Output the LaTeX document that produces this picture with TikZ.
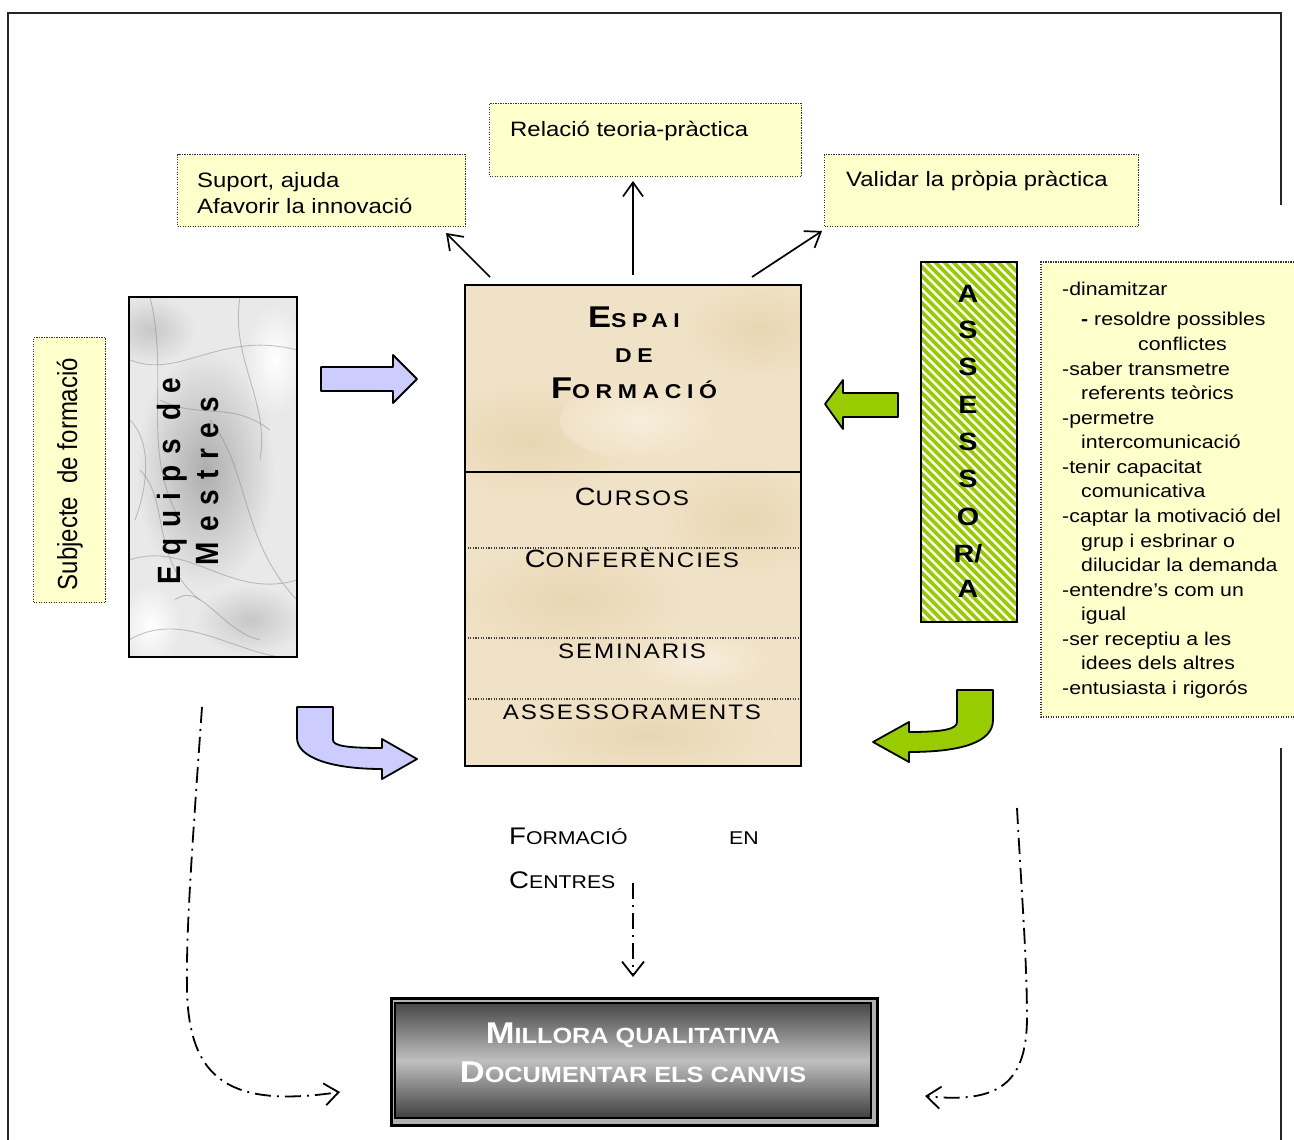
\documentclass[tikz,border=0pt]{standalone}
\usepackage{fontspec}
\usepackage{graphicx}
\usetikzlibrary{arrows.meta}
\setmainfont{Liberation Sans}[FakeStretch=1.15]
\newfontfamily\plainsans{Liberation Sans}
\newfontfamily\titlesans{Liberation Sans}[FakeStretch=1.15,LetterSpace=28]
\newfontfamily\itemsans{Liberation Sans}[FakeStretch=1.15,LetterSpace=9]
\newfontfamily\equipsans{Liberation Sans}[LetterSpace=37]
\newcommand\setfs[1]{\fontsize{#1}{#1}\selectfont}
\newcommand\vstretch[1]{\scalebox{1}[1.15]{#1}}
\definecolor{notefill}{HTML}{FFFFCC}
\definecolor{lilac}{HTML}{CCCCFF}
\definecolor{lime}{HTML}{99CC00}
\definecolor{parch}{HTML}{F0E2C6}
\definecolor{parchdark}{HTML}{E8D6B2}
\definecolor{parchlight}{HTML}{F6EDDB}
\definecolor{marble}{HTML}{E9E9E9}
\begin{document}
\begin{tikzpicture}[x=1pt,y=-1pt,
  note/.style={fill=notefill, draw=black!80, line width=1.3pt, dash pattern=on 1.3pt off 1.2pt, inner sep=0, anchor=north west},
  txt/.style={inner sep=0, font=\setfs{20.8}},
  listtxt/.style={inner sep=0, anchor=base west, font=\setfs{18.5}},
  frameline/.style={line width=2pt, black!85},
  ptr/.style={line width=1.7pt, -{Straight Barb[length=14pt,width=20pt]}},
  dashdot/.style={line width=1.8pt, dash pattern=on 16pt off 6pt on 2pt off 6pt, -{Straight Barb[length=14pt,width=22pt]}},
  blockarrow/.style={line width=1.8pt, line join=round, draw=black},
  sep/.style={line width=1.2pt, black!75, dash pattern=on 1.2pt off 1.4pt},
  vein/.style={black!50, opacity=0.45, line width=0.9pt},
  letterA/.style={inner sep=0, anchor=base, font=\bfseries\setfs{25}}]
\useasboundingbox (0,0) rectangle (1294,1140);
\fill[white] (0,0) rectangle (1294,1140);

% page frame
\draw[frameline] (8,1140) -- (8,13) -- (1281,13) -- (1281,205);
\draw[frameline] (1281,748) -- (1281,1140);

% goals above the training space
\node[note, minimum width=288, minimum height=72] (suport) at (177,154) {};
\node[txt, anchor=base west] (suportA) at (197,187) {Suport, ajuda};
\node[txt, anchor=base west] (suportB) at (197,213) {Afavorir la innovació};
\node[note, minimum width=312, minimum height=73] (relacio) at (489,103) {};
\node[txt, anchor=base west] (relacioA) at (510,136) {Relació teoria-pràctica};
\node[note, minimum width=314, minimum height=72] (validar) at (824,154) {};
\node[txt, anchor=base west] (validarA) at (846,186) {Validar la pròpia pràctica};

% subject label
\node[note, minimum width=72, minimum height=265] (subjbox) at (33,337) {};
\node[anchor=base, rotate=90, inner sep=0] (subj) at (77,474) {\vstretch{\plainsans\setfs{24}Subjecte\ \ de formació}};

% teachers' teams (marble block)
\node[anchor=north west, minimum width=168, minimum height=360, inner sep=0, fill=marble] (equips) at (129,297) {};
\begin{scope}
\clip (129,297) rectangle (297,657);
\shade[inner color=black!32, outer color=marble] (205,470) ellipse (70 and 120);
\shade[inner color=black!22, outer color=marble] (150,330) ellipse (45 and 35);
\shade[inner color=black!22, outer color=marble] (250,620) ellipse (55 and 35);
\shade[inner color=white, outer color=marble] (275,360) ellipse (30 and 55);
\shade[inner color=white, outer color=marble] (150,625) ellipse (30 and 40);
\draw[vein] (130,360) .. controls (180,380) and (220,330) .. (297,350);
\draw[vein] (150,297) .. controls (170,380) and (140,450) .. (180,520);
\draw[vein] (129,560) .. controls (190,540) and (230,600) .. (297,580);
\draw[vein] (210,420) .. controls (250,470) and (240,540) .. (297,600);
\draw[vein] (129,640) .. controls (180,610) and (230,650) .. (280,657);
\draw[vein] (240,297) .. controls (230,360) and (270,400) .. (260,460);
\draw[vein] (140,470) .. controls (170,500) and (150,560) .. (200,600);
\draw[vein] (160,400) .. controls (200,420) and (230,400) .. (270,430);
\draw[vein] (175,600) .. controls (200,580) and (220,630) .. (260,640);
\draw[vein] (130,420) .. controls (150,440) and (150,480) .. (135,520);
\end{scope}
\draw[line width=2pt] (equips.north west) rectangle (equips.south east);
\node[anchor=base, rotate=90, inner sep=0] (eq1) at (180,481) {\vstretch{\equipsans\bfseries\setfs{28}Equips de}};
\node[anchor=base, rotate=90, inner sep=0] (eq2) at (218,481) {\vstretch{\equipsans\bfseries\setfs{28}Mestres}};

% training space (parchment block)
\node[anchor=north west, minimum width=336, minimum height=481, inner sep=0, fill=parch] (espai) at (465,285) {};
\begin{scope}
\clip (465,285) rectangle (801,766);
\shade[inner color=parchdark, outer color=parch] (530,440) ellipse (110 and 60);
\shade[inner color=parchdark, outer color=parch] (760,330) ellipse (80 and 50);
\shade[inner color=parchdark, outer color=parch] (570,600) ellipse (120 and 55);
\shade[inner color=parchdark, outer color=parch] (745,520) ellipse (90 and 60);
\shade[inner color=parchdark, outer color=parch] (650,735) ellipse (130 and 40);
\shade[inner color=parchlight, outer color=parch] (640,420) ellipse (80 and 40);
\shade[inner color=parchlight, outer color=parch] (700,660) ellipse (70 and 30);
\end{scope}
\draw[line width=1.6pt] (465,472) -- (801,472);
\draw[sep] (465,548) -- (801,548);
\draw[sep] (465,638) -- (801,638);
\draw[sep] (465,699) -- (801,699);
\draw[line width=2pt] (espai.north west) rectangle (espai.south east);
\node[anchor=base, inner sep=0] (ttl1) at (634,327) {\titlesans\bfseries{\setfs{30}E}{\setfs{20}SPAI}};
\node[anchor=base, inner sep=0] (ttl2) at (634,362) {\titlesans\bfseries\setfs{20}DE};
\node[anchor=base, inner sep=0] (ttl3) at (634,398) {\titlesans\bfseries{\setfs{30}F}{\setfs{20}ORMACIÓ}};
\node[anchor=base, inner sep=0] (cursos) at (632,505) {\itemsans{\setfs{25}C}{\setfs{21}URSOS}};
\node[anchor=base, inner sep=0] (confer) at (632,567) {\itemsans{\setfs{25}C}{\setfs{21}ONFERÈNCIES}};
\node[anchor=base, inner sep=0] (semin) at (632,658) {\itemsans\setfs{21}SEMINARIS};
\node[anchor=base, inner sep=0] (assess) at (632,719) {\itemsans\setfs{21}ASSESSORAMENTS};

% adviser (striped block)
\node[anchor=north west, minimum width=96, minimum height=360, inner sep=0, fill=white] (assessor) at (921,262) {};
\begin{scope}
\clip (921,262) rectangle (1017,622);
\foreach \s in {0,9,...,500} {
  \draw[lime, line width=3.8pt] (521+\s,262) -- (921+\s,662);
}
\end{scope}
\draw[line width=2pt] (assessor.north west) rectangle (assessor.south east);
\node[letterA] (la1) at (968,302) {A};
\node[letterA] (la2) at (968,338) {S};
\node[letterA] (la3) at (968,375) {S};
\node[letterA] (la4) at (968,413) {E};
\node[letterA] (la5) at (968,450) {S};
\node[letterA] (la6) at (968,487) {S};
\node[letterA] (la7) at (968,525) {O};
\node[letterA] (la8) at (968,562) {R/};
\node[letterA] (la9) at (968,597) {A};

% adviser's qualities
\fill[notefill] (1041,262) rectangle (1294,717);
\draw[note] (1294,262) -- (1041,262) -- (1041,717) -- (1294,717);
\node[listtxt] (li1) at (1062,295) {-dinamitzar};
\node[listtxt] (li2) at (1081,325) {{\bfseries -} resoldre possibles};
\node[listtxt] (li3) at (1138,350) {conflictes};
\node[listtxt] (li4) at (1062,375) {-saber transmetre};
\node[listtxt] (li5) at (1081,399) {referents teòrics};
\node[listtxt] (li6) at (1062,424) {-permetre};
\node[listtxt] (li7) at (1081,448) {intercomunicació};
\node[listtxt] (li8) at (1062,473) {-tenir capacitat};
\node[listtxt] (li9) at (1081,497) {comunicativa};
\node[listtxt] (li10) at (1062,522) {-captar la motivació del};
\node[listtxt] (li11) at (1081,547) {grup i esbrinar o};
\node[listtxt] (li12) at (1081,571) {dilucidar la demanda};
\node[listtxt] (li13) at (1062,596) {-entendre’s com un};
\node[listtxt] (li14) at (1081,620) {igual};
\node[listtxt] (li15) at (1062,645) {-ser receptiu a les};
\node[listtxt] (li16) at (1081,669) {idees dels altres};
\node[listtxt] (li17) at (1062,694) {-entusiasta i rigorós};

% block arrows into the training space
\draw[blockarrow, fill=lilac] (321,367) -- (393,367) -- (393,355) -- (417,379) -- (393,403) -- (393,391) -- (321,391) -- cycle;
\draw[blockarrow, fill=lime] (898,393) -- (843,393) -- (843,380) -- (825,404) -- (843,429) -- (843,417) -- (898,417) -- cycle;
\draw[blockarrow, fill=lilac] (297,707) -- (333,707) -- (333,740) .. controls (333,746) and (348,748) .. (382,748) -- (382,739) -- (417,759) -- (382,779) -- (382,769) .. controls (330,769) and (297,757) .. (297,738) -- cycle;
\draw[blockarrow, fill=lime] (993,690) -- (957,690) -- (957,722) .. controls (957,729) and (944,732) .. (909,732) -- (909,722) -- (873,742) -- (909,762) -- (909,752) .. controls (962,752) and (993,742) .. (993,720) -- cycle;

% outcomes of the training space
\coordinate (o1) at (490,277);
\coordinate (o2) at (633,275);
\coordinate (o3) at (752,277);
\coordinate (g1) at (446,233);
\coordinate (g2) at (633,181);
\coordinate (g3) at (822,231);
\draw[ptr] (o1) -- (g1);
\draw[ptr] (o2) -- (g2);
\draw[ptr] (o3) -- (g3);

% school-based training label
\node[anchor=base west, inner sep=0] (fc1) at (509,844) {{\setfs{24}F}{\setfs{18.5}ORMACIÓ}};
\node[anchor=base west, inner sep=0] (fc2) at (729,844) {\setfs{18.5}EN};
\node[anchor=base west, inner sep=0] (fc3) at (509,888) {{\setfs{24}C}{\setfs{18.5}ENTRES}};

% result block
\node[anchor=north west, minimum width=486, minimum height=127, inner sep=0, fill=black!30, draw=black, line width=2.5pt] (millora) at (390,997) {};
\shade[top color=black!72, bottom color=black!75, middle color=black!25] (395,1003) rectangle (871,1118);
\draw[line width=2.5pt] (395,1003) rectangle (871,1118);
\node[anchor=base, inner sep=0, text=white] (m1) at (633,1043) {\bfseries{\setfs{30}M}{\setfs{22}ILLORA QUALITATIVA}};
\node[anchor=base, inner sep=0, text=white] (m2) at (633,1082) {\bfseries{\setfs{30}D}{\setfs{22}OCUMENTAR ELS CANVIS}};

% dash-dot links towards the result
\coordinate (d1) at (202,707);
\coordinate (d2) at (1017,808);
\coordinate (d3) at (633,883);
\coordinate (r1) at (340,1092);
\coordinate (r2) at (925,1096);
\coordinate (r3) at (633,977);
\draw[dashdot] (d1) .. controls (192,850) and (186,930) .. (187,990) .. controls (189,1080) and (230,1108) .. (r1);
\draw[dashdot] (d2) .. controls (1022,900) and (1027,960) .. (1027,1020) .. controls (1026,1082) and (1000,1104) .. (r2);
\draw[dashdot] (d3) -- (r3);
\end{tikzpicture}
\end{document}
